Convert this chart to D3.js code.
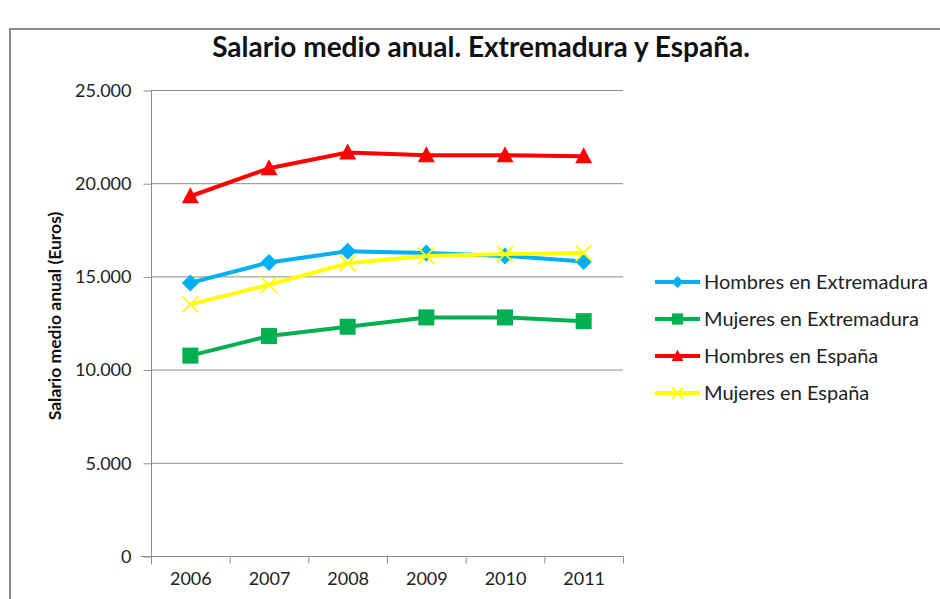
<!DOCTYPE html>
<html><head><meta charset="utf-8">
<script src="https://cdn.jsdelivr.net/npm/d3@7"></script>
<style>body{margin:0;background:#fff}svg{display:block}</style>
</head><body>
<svg id="c" width="940" height="599"></svg>
<script>
const years = ["2006","2007","2008","2009","2010","2011"];
const hombresExtremadura = [14650,15750,16350,16250,16100,15800];
const mujeresExtremadura = [10750,11800,12300,12800,12800,12600];
const hombresEspana = [19300,20800,21650,21500,21500,21450];
const mujeresEspana = [13500,14550,15700,16100,16200,16250];
const yTicks = [0,5000,10000,15000,20000,25000];
const seriesNames = ["Hombres en Extremadura","Mujeres en Extremadura","Hombres en España","Mujeres en España"];
const seriesColors = ["#00B0F0","#00B050","#FF0000","#FFFF00"];
const seriesSymbols = ["diamond","square","triangle","x"];
const series = [hombresExtremadura,mujeresExtremadura,hombresEspana,mujeresEspana];

const svg = d3.select("#c");
const font = "Lato, 'Open Sans', sans-serif";
svg.append("rect").attr("x",10).attr("y",29).attr("width",960).attr("height",620)
  .attr("fill","#fff").attr("stroke","#8a8a8a").attr("stroke-width",2);

const x = d3.scaleBand().domain(years).range([151,623]);
const y = d3.scaleLinear().domain([0,25000]).range([556,90]);
const fmt = d => d3.format(",")(d).replace(/,/g,".");

// gridlines
svg.append("g").selectAll("line").data(yTicks).join("line")
  .attr("x1",151).attr("x2",623).attr("y1",d=>y(d)+0.5).attr("y2",d=>y(d)+0.5)
  .attr("stroke","#8c8c8c").attr("stroke-width",1);

const yAxis = svg.append("g").attr("transform","translate(151.5,0.5)")
  .call(d3.axisLeft(y).tickValues(yTicks).tickSize(8).tickPadding(12).tickFormat(fmt));
yAxis.attr("font-family",font).attr("font-size",18);
yAxis.select(".domain").attr("stroke","#8c8c8c").attr("d","M0,"+y(25000)+"V"+(y(0)+8));
yAxis.selectAll(".tick line").attr("stroke","#8c8c8c");
yAxis.selectAll(".tick text").attr("fill","#222");

const xAxis = svg.append("g").attr("transform","translate(0.5,"+(y(0)+0.5)+")")
  .call(d3.axisBottom(x).tickSize(0).tickPadding(16));
xAxis.attr("font-family",font).attr("font-size",18);
xAxis.select(".domain").attr("stroke","#8c8c8c").attr("d","M140,0H623");
xAxis.selectAll(".tick line").remove();
xAxis.selectAll(".tick text").attr("fill","#222");
const bounds = years.map(d=>x(d)).concat([x.range()[1]]);
xAxis.append("g").selectAll("line").data(bounds).join("line")
  .attr("x1",d=>d).attr("x2",d=>d).attr("y1",0).attr("y2",7).attr("stroke","#8c8c8c");

// title
svg.append("text").attr("x",481).attr("y",57).attr("text-anchor","middle")
  .attr("font-family",font).attr("font-weight","bold").attr("font-size","28px").attr("fill","#111")
  .text("Salario medio anual. Extremadura y España.");

// y axis title
svg.append("text").attr("transform","translate(61,316) rotate(-90)").attr("text-anchor","middle")
  .attr("font-family",font).attr("font-weight","bold").attr("font-size","17.5px").attr("fill","#111")
  .text("Salario medio anual (Euros)");

function drawMarker(g, sym, color, cx, cy, scale){
  const s = scale||1;
  if(sym==="diamond"){
    g.append("path").attr("d",`M${cx},${cy-8.5*s}L${cx+8.5*s},${cy}L${cx},${cy+8.5*s}L${cx-8.5*s},${cy}Z`).attr("fill",color);
  } else if(sym==="square"){
    g.append("rect").attr("x",cx-8*s).attr("y",cy-8*s).attr("width",16*s).attr("height",16*s).attr("fill",color);
  } else if(sym==="triangle"){
    g.append("path").attr("d",`M${cx},${cy-9*s}L${cx+8.5*s},${cy+7*s}L${cx-8.5*s},${cy+7*s}Z`).attr("fill",color);
  } else {
    g.append("path").attr("d",`M${cx-8*s},${cy-8*s}L${cx+8*s},${cy+8*s}M${cx+8*s},${cy-8*s}L${cx-8*s},${cy+8*s}`)
      .attr("stroke",color).attr("stroke-width",1.8).attr("fill","none");
  }
}

const line = d3.line().x((d,i)=>x(years[i])+x.bandwidth()/2).y(d=>y(d));
series.forEach((vals,k)=>{
  const g = svg.append("g");
  g.append("path").datum(vals).attr("d",line).attr("fill","none")
    .attr("stroke",seriesColors[k]).attr("stroke-width",4).attr("stroke-linejoin","round");
  vals.forEach((v,i)=>drawMarker(g,seriesSymbols[k],seriesColors[k],x(years[i])+x.bandwidth()/2,y(v)));
});

// legend
const leg = svg.append("g");
seriesNames.forEach((name,k)=>{
  const ly = 282 + k*37;
  leg.append("line").attr("x1",655).attr("x2",700).attr("y1",ly).attr("y2",ly)
    .attr("stroke",seriesColors[k]).attr("stroke-width",4);
  drawMarker(leg,seriesSymbols[k],seriesColors[k],677.5,ly,0.7);
  leg.append("text").attr("x",704).attr("y",ly+7).attr("font-family",font).attr("font-size","20px")
    .attr("fill","#222").text(name);
});
</script>
</body></html>
